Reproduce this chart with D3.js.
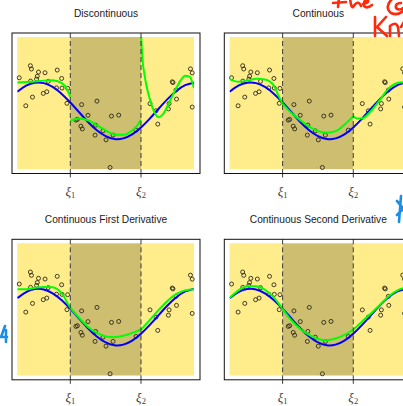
<!DOCTYPE html>
<html>
<head>
<meta charset="utf-8">
<script src="https://cdn.jsdelivr.net/npm/d3@7"></script>
<style>
  body { margin: 0; background: #fff; }
  svg { display: block; }
</style>
</head>
<body>
<div id="container"></div>
<script>
// knots and panel titles
const knots = [0.3, 0.7]
const knotLabels = ["1", "2"]
const titles = ["Discontinuous", "Continuous", "Continuous First Derivative", "Continuous Second Derivative"]

// observed points (same sample in every panel)
const pointX = [0.011, 0.074, 0.080, 0.120, 0.157, 0.113, 0.109, 0.075, 0.175, 0.226, 0.251, 0.222, 0.253, 0.285,
  0.167, 0.147, 0.086, 0.048, 0.281, 0.364, 0.451, 0.400, 0.332, 0.340, 0.360, 0.368, 0.443, 0.440, 0.485, 0.502,
  0.533, 0.574, 0.542, 0.525, 0.672, 0.751, 0.785, 0.795, 0.859, 0.855, 0.877, 0.881, 0.901, 0.898, 0.980, 0.990, 0.990]
const pointY = [0.575, 0.848, 0.773, 0.705, 0.689, 0.609, 0.545, 0.500, 0.493, 0.750, 0.559, 0.345, 0.341, 0.334,
  0.257, 0.220, 0.136, -0.061, -0.005, -0.034, 0.045, -0.277, -0.386, -0.370, -0.523, -0.586, -0.500, -0.727, -0.630, -0.834,
  -0.295, -0.273, -0.727, -1.461, -0.614, -0.011, -0.175, -0.477, -0.011, -0.132, 0.484, 0.466, 0.091, 0.295, 0.777, 0.686, -0.091]

// true function (blue), read on a regular grid
const gridX = [0, 0.05, 0.1, 0.15, 0.2, 0.25, 0.3, 0.35, 0.4, 0.45, 0.5, 0.55, 0.6, 0.65, 0.7, 0.75, 0.8, 0.85, 0.9, 0.95, 1]
const trueY = [0.256, 0.394, 0.462, 0.453, 0.366, 0.214, 0.014, -0.208, -0.428, -0.617, -0.750, -0.814, -0.800, -0.709,
  -0.552, -0.352, -0.128, 0.090, 0.274, 0.408, 0.465]

// fitted piecewise cubics (green)
const discX1 = [0, 0.05, 0.1, 0.15, 0.2, 0.25, 0.275, 0.3]
const discY1 = [0.47, 0.48, 0.49, 0.51, 0.52, 0.46, 0.36, 0.14]
const discX2 = [0.3, 0.35, 0.4, 0.45, 0.5, 0.55, 0.6, 0.65, 0.675, 0.7]
const discY2 = [-0.40, -0.35, -0.39, -0.50, -0.62, -0.71, -0.72, -0.62, -0.53, -0.37]
const discX3 = [0.7, 0.705, 0.71, 0.72, 0.73, 0.75, 0.775, 0.8, 0.825, 0.85, 0.875, 0.9, 0.925, 0.95, 0.975, 1]
const discY3 = [1.6, 1.2, 0.93, 0.64, 0.41, 0.09, -0.20, -0.32, -0.25, -0.07, 0.14, 0.34, 0.52, 0.62, 0.60, 0.34]

const contX1 = [0, 0.05, 0.1, 0.15, 0.2, 0.25, 0.275, 0.3]
const contY1 = [0.545, 0.484, 0.507, 0.55, 0.534, 0.40, 0.18, -0.011]
const contX2 = [0.3, 0.35, 0.4, 0.45, 0.5, 0.55, 0.6, 0.65, 0.7]
const contY2 = [-0.011, -0.227, -0.386, -0.534, -0.636, -0.670, -0.636, -0.489, -0.295]
const contX3 = [0.7, 0.72, 0.75, 0.8, 0.85, 0.9, 0.95, 1]
const contY3 = [-0.295, -0.35, -0.345, -0.18, 0.068, 0.33, 0.455, 0.477]

const firstDerivY = [0.455, 0.455, 0.489, 0.511, 0.505, 0.375, 0.039, -0.193, -0.398, -0.534, -0.614, -0.630, -0.598,
  -0.534, -0.448, -0.239, -0.011, 0.193, 0.352, 0.432, 0.455]
const secondDerivY = [0.261, 0.432, 0.527, 0.523, 0.443, 0.273, 0.011, -0.25, -0.443, -0.58, -0.67, -0.698, -0.659,
  -0.58, -0.455, -0.273, -0.091, 0.102, 0.295, 0.432, 0.5]

const zip = (xs, ys) => xs.map((v, i) => [v, ys[i]])

const fits = [
    [zip(discX1, discY1), zip(discX2, discY2), zip(discX3, discY3)],
    [zip(contX1, contY1), zip(contX2, contY2), zip(contX3, contY3)],
    [zip(gridX, firstDerivY)],
    [zip(gridX, secondDerivY)]
]

const light = "#FFEC8B"
const dark = "#CDBE70"
const boxW = 188, boxH = 140.5
const padL = 5.3, padR = 6, padT = 4, padB = 4.3
const panelPos = [[12, 33], [224.3, 33], [12, 239.3], [224.3, 239.3]]

const svg = d3.select('#container')
    .append('svg').attr('width', 403).attr('height', 406)

const drawPanel = (i) => {
    const [ox, oy] = panelPos[i]
    const g = svg.append("g").attr("transform", `translate(${ox},${oy})`)
    const x = d3.scaleLinear().domain([0, 1]).range([padL, boxW - padR])
    const y = d3.scaleLinear().domain([-1.5, 1.5]).range([boxH - padB, padT])

    g.append("clipPath").attr("id", "clip" + i)
        .append("rect")
        .attr("x", x(0)).attr("y", y(1.5))
        .attr("width", x(1) - x(0)).attr("height", y(-1.5) - y(1.5))

    // shaded regions between knots
    const edges = [0, ...knots, 1]
    g.selectAll(".region")
        .data(d3.pairs(edges))
        .enter()
        .append("rect")
        .attr("class", "region")
        .attr("x", d => x(d[0]))
        .attr("width", d => x(d[1]) - x(d[0]))
        .attr("y", y(1.5))
        .attr("height", y(-1.5) - y(1.5))
        .attr("fill", (d, k) => k === 1 ? dark : light)

    const line = d3.line().x(d => x(d[0])).y(d => y(d[1]))

    g.selectAll(".pt")
        .data(zip(pointX, pointY))
        .enter()
        .append("circle")
        .attr("class", "pt")
        .attr("cx", d => x(d[0]))
        .attr("cy", d => y(d[1]))
        .attr("r", 2)
        .attr("fill", "none")
        .attr("stroke", "#2e2a1c")
        .attr("stroke-width", 0.9)

    const lines = g.append("g").attr("clip-path", `url(#clip${i})`)
    lines.append("path")
        .attr("d", line.curve(d3.curveNatural)(zip(gridX, trueY)))
        .attr("fill", "none")
        .attr("stroke", "#0000FF")
        .attr("stroke-width", 2)

    lines.selectAll(".fit")
        .data(fits[i])
        .enter()
        .append("path")
        .attr("class", "fit")
        .attr("d", d => line.curve(d3.curveMonotoneX)(d))
        .attr("fill", "none")
        .attr("stroke", "#00FF00")
        .attr("stroke-width", 2)

    // knot lines
    g.selectAll(".knot")
        .data(knots)
        .enter()
        .append("line")
        .attr("x1", d => x(d)).attr("x2", d => x(d))
        .attr("y1", 0).attr("y2", boxH)
        .attr("stroke", "#3c3c3c")
        .attr("stroke-width", 1)
        .attr("stroke-dasharray", "5,3")

    g.selectAll(".tick")
        .data(knots)
        .enter()
        .append("line")
        .attr("x1", d => x(d)).attr("x2", d => x(d))
        .attr("y1", boxH).attr("y2", boxH + 4)
        .attr("stroke", "#3c3c3c")
        .attr("stroke-width", 1)

    const lab = g.selectAll(".klab")
        .data(knots)
        .enter()
        .append("text")
        .attr("x", d => x(d))
        .attr("y", boxH + 22)
        .attr("text-anchor", "middle")
        .attr("font-family", "'Liberation Serif', 'DejaVu Serif', serif")
        .attr("font-style", "italic")
        .attr("font-size", 13)
        .attr("fill", "#3a3a3a")
    lab.append("tspan").text("ξ")
    lab.append("tspan")
        .attr("font-size", 8.5)
        .attr("font-style", "normal")
        .attr("dy", 2)
        .text((d, k) => knotLabels[k])

    g.append("rect")
        .attr("x", 0).attr("y", 0)
        .attr("width", boxW).attr("height", boxH)
        .attr("fill", "none")
        .attr("stroke", "#111")
        .attr("stroke-width", 1)

    g.append("text")
        .attr("x", boxW / 2)
        .attr("y", -16)
        .attr("text-anchor", "middle")
        .attr("font-family", "'Liberation Sans', Arial, sans-serif")
        .attr("font-size", 10.2)
        .attr("fill", "#1a1a1a")
        .text(titles[i])
}

d3.range(4).forEach(drawPanel)

// handwritten marks drawn over the figure
const marks = svg.append("g")
    .attr("fill", "none")
    .attr("stroke-linecap", "round")
    .attr("stroke-linejoin", "round")
    .attr("stroke-width", 2.6)
marks.append("path")
    .attr("stroke", "#ff2a0a")
    .attr("d", "M333,3 L346,2 M339,-2 L338,7 M350,-2 Q351,8 353,7 Q358,-1 361,6 M363,4 Q369,3 368,0 Q363,0 364,6 Q367,9 372,5 " +
        "M392,-1 Q384,7 391,13 Q398,16 403,11 M401,3 Q395,3 396,8 Q399,11 403,8 " +
        "M375,17 L375,36 M386,17 L377,27 L387,36 M390,36 L390,26 Q396,21 398,27 L399,36 M401,27 L404,22")
marks.append("path")
    .attr("stroke", "#1a8fe8")
    .attr("d", "M401,196 L399,222 M397,201 Q402,206 404,211 M397,215 L404,208 " +
        "M5,326 L1,337 L7,337 M6,330 L6,342")
</script>
</body>
</html>
